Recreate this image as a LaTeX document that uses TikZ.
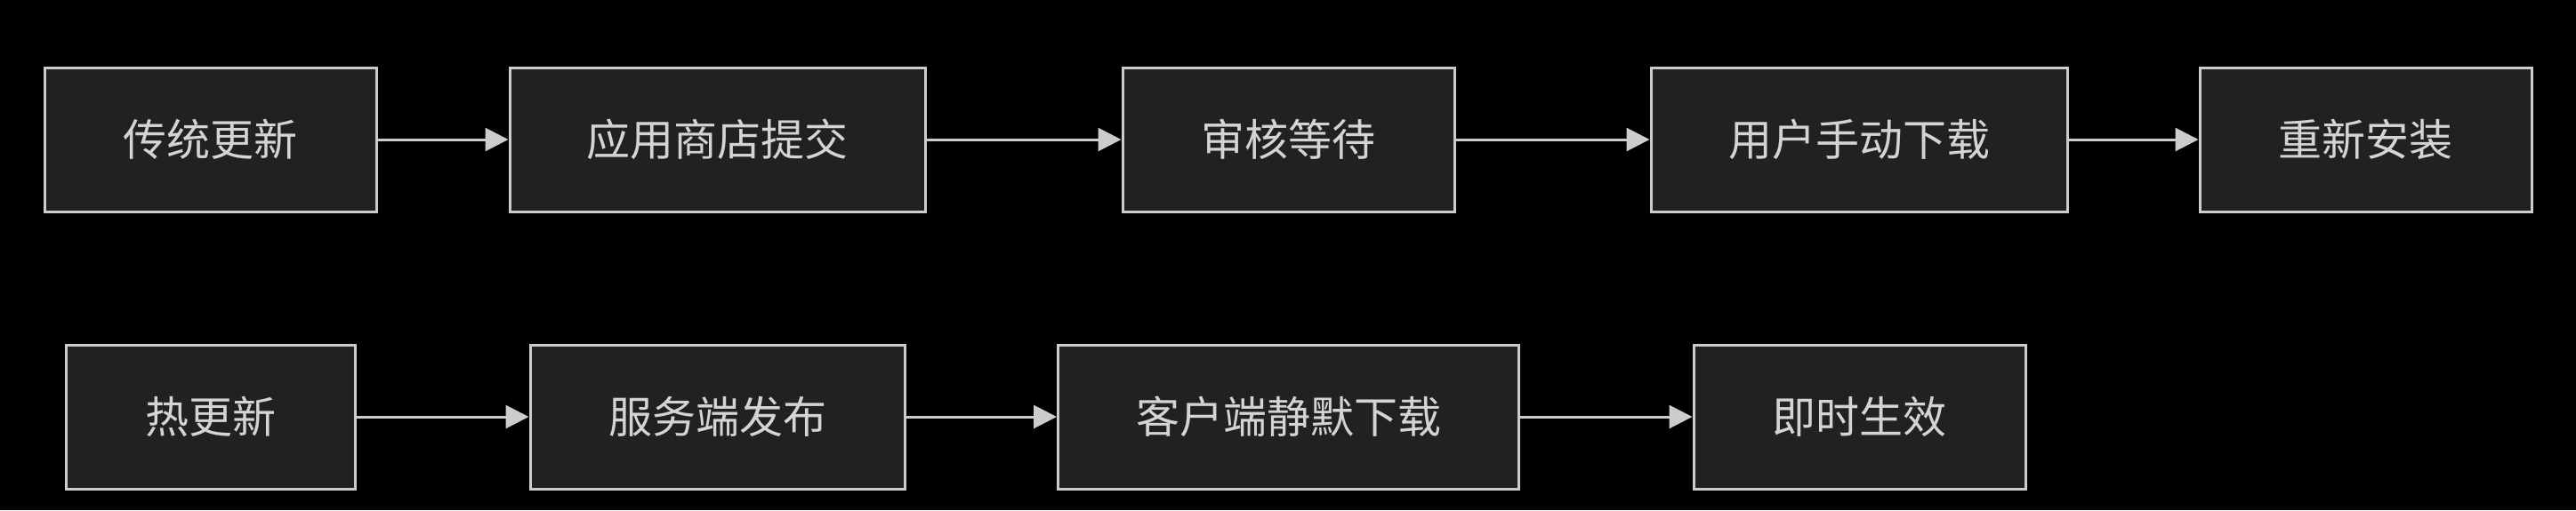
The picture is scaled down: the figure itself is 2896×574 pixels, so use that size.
\documentclass[tikz,border=0pt]{standalone}
\usepackage{fontspec}
\newfontfamily\cjk{Noto Sans CJK SC}
\usetikzlibrary{arrows.meta}
\definecolor{boxfill}{HTML}{202222}
\definecolor{boxline}{HTML}{CCCCCC}
\definecolor{txt}{HTML}{D4D4D4}
\begin{document}
\begin{tikzpicture}[x=1pt,y=-1pt,
 box/.style={draw=boxline, fill=boxfill, line width=3pt, minimum height=162pt, inner sep=0pt, font=\cjk\fontsize{49}{58}\selectfont, text=txt},
 flow/.style={draw=boxline, line width=3pt, -{Triangle[length=26pt,width=26pt]}}]
\fill[black] (0,0) rectangle (2896,574);
\useasboundingbox (0,0) rectangle (2896,574);
\node[box, minimum width=373pt] (a1) at (236.5,157) {传统更新};
\node[box, minimum width=467pt] (a2) at (806.5,157) {应用商店提交};
\node[box, minimum width=373pt] (a3) at (1448.5,157) {审核等待};
\node[box, minimum width=468pt] (a4) at (2090,157) {用户手动下载};
\node[box, minimum width=373pt] (a5) at (2659.5,157) {重新安装};
\node[box, minimum width=325pt] (b1) at (236.5,469) {热更新};
\node[box, minimum width=421pt] (b2) at (806.5,469) {服务端发布};
\node[box, minimum width=518pt] (b3) at (1448.5,469) {客户端静默下载};
\node[box, minimum width=373pt] (b4) at (2090.5,469) {即时生效};
\draw[flow] (a1) -- (a2);
\draw[flow] (a2) -- (a3);
\draw[flow] (a3) -- (a4);
\draw[flow] (a4) -- (a5);
\draw[flow] (b1) -- (b2);
\draw[flow] (b2) -- (b3);
\draw[flow] (b3) -- (b4);
\end{tikzpicture}
\end{document}
